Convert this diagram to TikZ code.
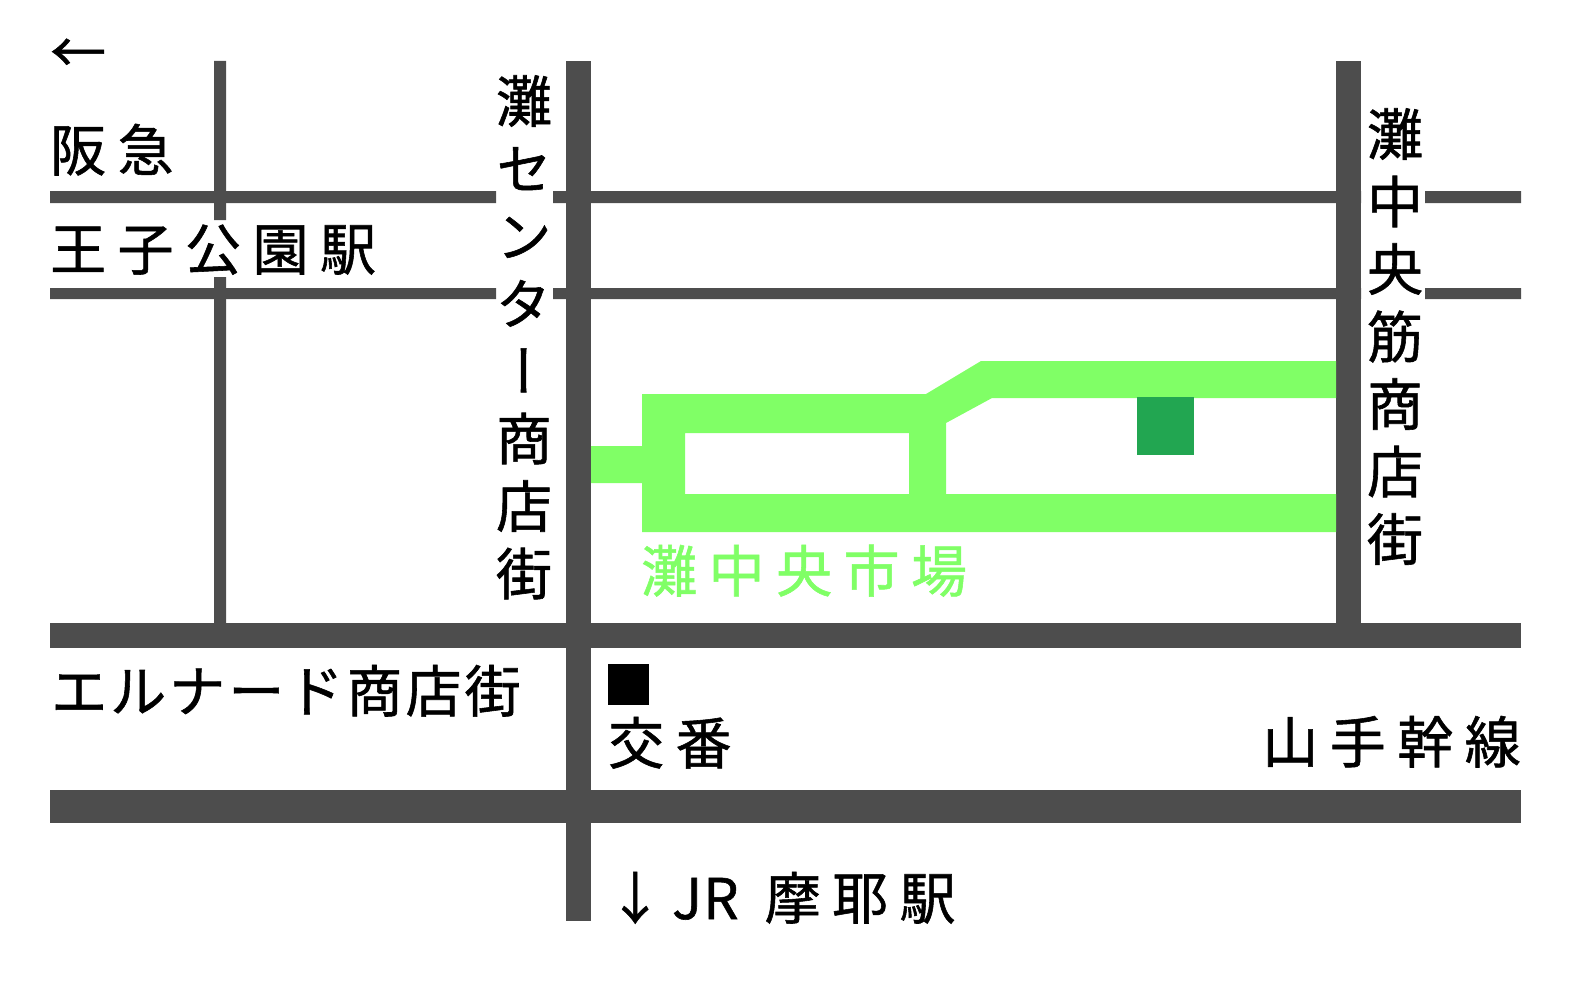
\documentclass[tikz,border=0pt]{standalone}
\usepackage{fontspec}
\setmainfont{Noto Sans CJK JP}
\newfontfamily\wide[LetterSpace=20.5,FakeBold=1]{Noto Sans CJK JP}
\newfontfamily\tight[LetterSpace=5.5,FakeBold=1]{Noto Sans CJK JP}
\newfontfamily\tate[RawFeature={+vert},FakeBold=1]{Noto Sans CJK JP}
\definecolor{road}{HTML}{4D4D4D}
\definecolor{market}{HTML}{80FF66}
\definecolor{shop}{HTML}{22A651}
\tikzset{
  label/.style={anchor=base west,inner sep=0pt,font=\fontsize{56}{56}\selectfont\wide},
  tatelabel/.style={anchor=north,inner sep=0pt,align=center,font=\fontsize{56}{67.5}\selectfont\tate}
}

\begin{document}
\begin{tikzpicture}[x=1pt,y=-1pt]
  \useasboundingbox (0,0) rectangle (1579,982);
  % roads
  \fill[road] (214,61) rectangle (226,220) (214,277) rectangle (226,625);
  \foreach \y/\h in {191/203,288/299}
    \fill[road] (50,\y) rectangle (496,\h) (553,\y) rectangle (1361,\h) (1425,\y) rectangle (1521,\h);
  \fill[road] (566,61) rectangle (591,921);
  \fill[road] (1336,61) rectangle (1361,625);
  \fill[road] (50,623) rectangle (1521,648);
  \fill[road] (50,790) rectangle (1521,823);
  % market
  \fill[market,even odd rule]
    (642,394) -- (926,394) -- (981,361) -- (1336,361) -- (1336,398) -- (992,398)
    -- (946,423) -- (946,494) -- (1336,494) -- (1336,532) -- (642,532) -- (642,483)
    -- (591,483) -- (591,446) -- (642,446) -- cycle
    (685,433) rectangle (909,494);
  \fill[shop] (1137,397) rectangle (1194,455);
  \fill[black] (608,664) rectangle (649,705);
  % labels
  \node[label] (west) at (50,73) {←};
  \node[label] (hankyu) at (50,171) {阪急};
  \node[label] (oji) at (50,270) {王子公園駅};
  \node[tatelabel] (nadacenter) at (524,75) {灘\\セ\\ン\\タ\\ー\\商\\店\\街};
  \node[tatelabel] (nadachuo) at (1395,108) {灘\\中\\央\\筋\\商\\店\\街};
  \node[label,text=market] (ichiba) at (641,592) {灘中央市場};
  \node[label,font=\fontsize{56}{56}\selectfont\tight] (elnard) at (51,712) {エルナード商店街};
  \node[label] (koban) at (608,764) {交番};
  \node[label,anchor=base east] (yamate) at (1521,763) {山手幹線};
  \node[label] (maya) at (607,919) {↓\kern9pt J\kern1pt R\kern2pt\ 摩耶駅};
\end{tikzpicture}
\end{document}
